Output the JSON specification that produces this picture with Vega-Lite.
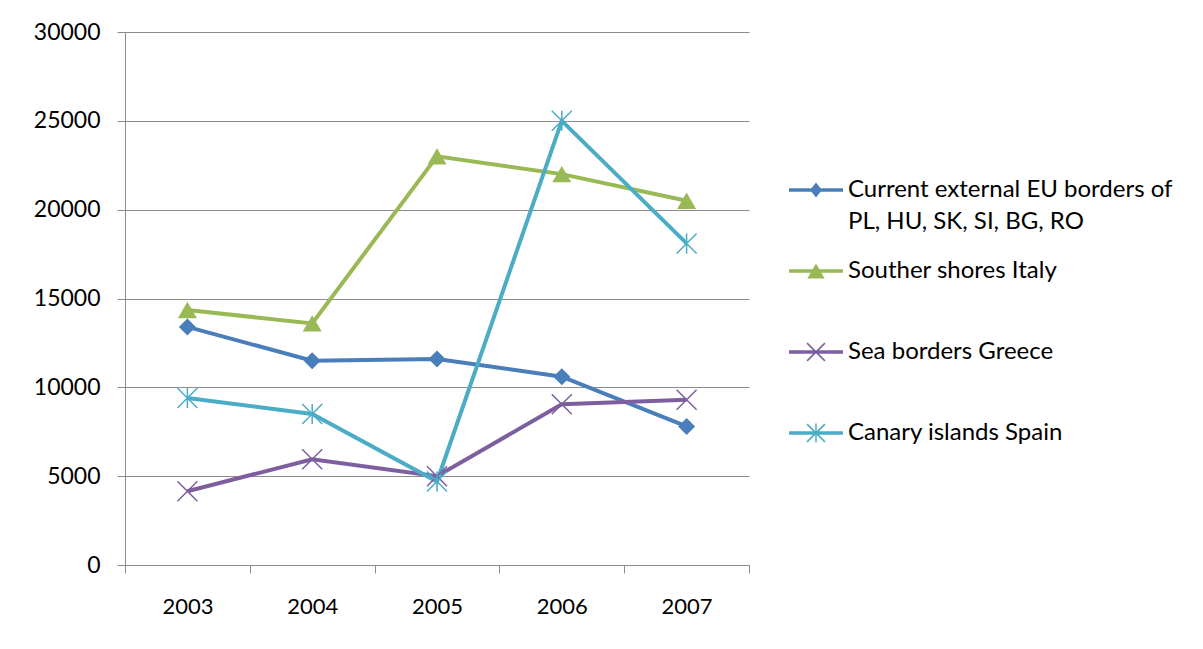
{
  "$schema": "https://vega.github.io/schema/vega-lite/v6.json",
  "width": 624,
  "height": 533,
  "autosize": {"type": "none"},
  "padding": {"left": 125, "top": 32, "right": 454, "bottom": 84},
  "background": "white",
  "config": {"view": {"stroke": null}, "font": "Lato"},
  "data": {
    "values": [
      {"series": "Current external EU borders of PL, HU, SK, SI, BG, RO", "year": "2003", "value": 13400},
      {"series": "Current external EU borders of PL, HU, SK, SI, BG, RO", "year": "2004", "value": 11500},
      {"series": "Current external EU borders of PL, HU, SK, SI, BG, RO", "year": "2005", "value": 11600},
      {"series": "Current external EU borders of PL, HU, SK, SI, BG, RO", "year": "2006", "value": 10600},
      {"series": "Current external EU borders of PL, HU, SK, SI, BG, RO", "year": "2007", "value": 7800},
      {"series": "Souther shores Italy", "year": "2003", "value": 14350},
      {"series": "Souther shores Italy", "year": "2004", "value": 13600},
      {"series": "Souther shores Italy", "year": "2005", "value": 23000},
      {"series": "Souther shores Italy", "year": "2006", "value": 22000},
      {"series": "Souther shores Italy", "year": "2007", "value": 20500},
      {"series": "Sea borders Greece", "year": "2003", "value": 4150},
      {"series": "Sea borders Greece", "year": "2004", "value": 5950},
      {"series": "Sea borders Greece", "year": "2005", "value": 5000},
      {"series": "Sea borders Greece", "year": "2006", "value": 9050},
      {"series": "Sea borders Greece", "year": "2007", "value": 9300},
      {"series": "Canary islands Spain", "year": "2003", "value": 9400},
      {"series": "Canary islands Spain", "year": "2004", "value": 8500},
      {"series": "Canary islands Spain", "year": "2005", "value": 4700},
      {"series": "Canary islands Spain", "year": "2006", "value": 25000},
      {"series": "Canary islands Spain", "year": "2007", "value": 18100}
    ]
  },
  "encoding": {
    "x": {
      "field": "year",
      "type": "ordinal",
      "bandPosition": 0.5,
      "scale": {"type": "band", "paddingInner": 0, "paddingOuter": 0},
      "axis": {
        "title": null,
        "labelAngle": 0,
        "tickBand": "extent",
        "ticks": true,
        "tickSize": 8,
        "tickColor": "#8c8c8c",
        "domainColor": "#8c8c8c",
        "grid": false,
        "labelFont": "Lato",
        "labelFontSize": 22,
        "labelColor": "#000000",
        "labelPadding": 23,
        "labelBaseline": "top"
      }
    },
    "y": {
      "field": "value",
      "type": "quantitative",
      "scale": {"domain": [0, 30000], "nice": false, "zero": true},
      "axis": {
        "title": null,
        "values": [0, 5000, 10000, 15000, 20000, 25000, 30000],
        "format": "d",
        "tickSize": 8,
        "tickColor": "#8c8c8c",
        "domainColor": "#8c8c8c",
        "grid": true,
        "gridColor": "#8c8c8c",
        "gridWidth": 1,
        "labelFont": "Lato",
        "labelFontSize": 23,
        "labelColor": "#000000",
        "labelPadding": 17
      }
    },
    "color": {
      "field": "series",
      "type": "nominal",
      "scale": {
        "domain": ["Current external EU borders of PL, HU, SK, SI, BG, RO", "Souther shores Italy", "Sea borders Greece", "Canary islands Spain"],
        "range": ["#4a7ebb", "#98b954", "#7d5fa0", "#4bacc6"]
      },
      "legend": null
    }
  },
  "layer": [
    {
      "mark": {"type": "line", "strokeWidth": 4},
      "encoding": {
        "color": {
          "field": "series",
          "type": "nominal",
          "legend": {
            "orient": "none",
            "legendX": 664,
            "legendY": 131,
            "title": null,
            "padding": 0,
            "symbolSize": 2916,
            "labelOffset": 5,
            "rowPadding": 10,
            "labelFont": "Lato",
            "labelFontSize": 24,
            "labelColor": "#000000",
            "labelLimit": 600,
            "labelExpr": "datum.label === 'Current external EU borders of PL, HU, SK, SI, BG, RO' ? ['Current external EU borders of', 'PL, HU, SK, SI, BG, RO'] : datum.label",
            "encode": {
              "symbols": {
                "update": {
                  "shape": {"signal": "['M0,1.6L0,1.6 M-1,-0.065H1V0.065H-1Z M0,-0.28L0.22,0L0,0.28L-0.22,0Z', 'M0,1.6L0,1.6 M-1,-0.065H1V0.065H-1Z M0,-0.28L0.32,0.28L-0.32,0.28Z', 'M0,1.6L0,1.6 M-1,-0.065H1V0.065H-1Z M-0.35,-0.31L-0.31,-0.35L0.35,0.31L0.31,0.35Z M0.31,-0.35L0.35,-0.31L-0.31,0.35L-0.35,0.31Z', 'M0,1.6L0,1.6 M-1,-0.065H1V0.065H-1Z M-0.35,-0.31L-0.31,-0.35L0.35,0.31L0.31,0.35Z M0.31,-0.35L0.35,-0.31L-0.31,0.35L-0.35,0.31Z M-0.027,-0.35H0.027V0.35H-0.027Z'][datum.index]"},
                  "fill": {"scale": "color", "field": "value"},
                  "fillOpacity": {"value": 1},
                  "stroke": {"value": "transparent"},
                  "strokeWidth": {"value": 0},
                  "size": {"value": 2916},
                  "opacity": {"value": 1}
                }
              },
              "labels": {"update": {"lineHeight": {"value": 32}}}
            }
          }
        }
      }
    },
    {
      "transform": [{"filter": {"field": "series", "equal": "Current external EU borders of PL, HU, SK, SI, BG, RO"}}],
      "mark": {"type": "point", "filled": true, "opacity": 1, "size": 289, "shape": "diamond"}
    },
    {
      "transform": [{"filter": {"field": "series", "equal": "Souther shores Italy"}}],
      "mark": {"type": "point", "filled": true, "opacity": 1, "size": 361, "shape": "triangle-up"}
    },
    {
      "transform": [{"filter": {"field": "series", "equal": "Sea borders Greece"}}],
      "mark": {"type": "point", "filled": false, "opacity": 1, "size": 400, "strokeWidth": 1.5, "shape": "M-1,-1L1,1M-1,1L1,-1"}
    },
    {
      "transform": [{"filter": {"field": "series", "equal": "Canary islands Spain"}}],
      "mark": {"type": "point", "filled": false, "opacity": 1, "size": 400, "strokeWidth": 1.5, "shape": "M-1,-1L1,1M-1,1L1,-1M0,-1L0,1"}
    }
  ]
}
